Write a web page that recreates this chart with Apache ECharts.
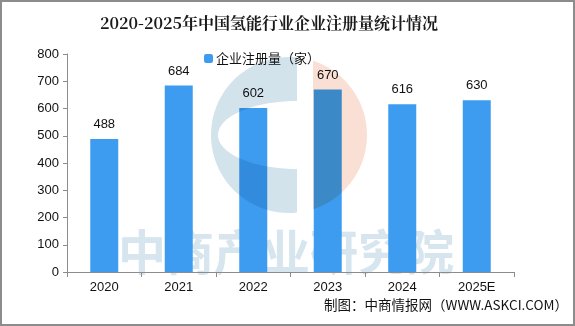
<!DOCTYPE html>
<html>
<head>
<meta charset="utf-8">
<script src="https://cdn.jsdelivr.net/npm/echarts@6/dist/echarts.min.js"></script>
<style>
    html, body {margin: 0; padding: 0; background: #fff;}
    #chart {width: 575px; height: 326px; box-sizing: border-box; border: 2px solid #8c8c8c;}
</style>
</head>
<body>
<div id="chart"></div>
<script>
// 数据
var years = ['2020', '2021', '2022', '2023', '2024', '2025E'];
var counts = [488, 684, 602, 670, 616, 630];
var yTicks = [0, 100, 200, 300, 400, 500, 600, 700, 800];

var myChart = echarts.init(document.getElementById('chart'));

var cnFont = '"Noto Sans CJK SC", sans-serif';
var numFont = '"Liberation Sans", "DejaVu Sans", sans-serif';

// 背景 logo 的轮廓点
function logoBlue() {
    var cx = 287, cy = 133, r = 78, pts = [];
    var a0 = Math.acos((295 - cx) / r);
    for (var i = 0; i <= 60; i++) {
        var a = a0 + (2 * Math.PI - 2 * a0) * i / 60;
        pts.push([cx + r * Math.cos(a), cy - r * Math.sin(a)]);
    }
    for (var j = 0; j <= 40; j++) {
        var b = Math.PI / 2 + Math.PI * j / 40;
        pts.push([295 + 79 * Math.cos(b), 133 + 34 * Math.sin(b)]);
    }
    return pts;
}
function logoOrange() {
    var cx = 287, cy = 133, r = 78, pts = [];
    var a0 = Math.acos((311 - cx) / r);
    for (var i = 0; i <= 50; i++) {
        var a = a0 - 2 * a0 * i / 50;
        pts.push([cx + r * Math.cos(a), cy - r * Math.sin(a)]);
    }
    return pts;
}

myChart.setOption({
    animation: false,
    title: {
        text: '2020-2025年中国氢能行业企业注册量统计情况',
        left: 93,
        top: 8,
        textStyle: {
            fontFamily: '"Noto Serif CJK SC", "Noto Sans CJK SC", serif',
            fontSize: 16,
            fontWeight: 'bold',
            color: '#1a1a1a'
        }
    },
    legend: {
        top: 45,
        left: 197,
        itemWidth: 9,
        itemHeight: 9,
        itemGap: 4,
        data: ['企业注册量（家）'],
        textStyle: {fontFamily: cnFont, fontSize: 13, color: '#111', padding: [0, 0, 0, -2]}
    },
    graphic: [
        // 水印文字（柱子下方）
        {
            type: 'text',
            left: 116,
            top: 226,
            z: 0,
            style: {
                text: '中商产业研究院',
                font: 'bold 48px "Noto Sans CJK SC"',
                fill: '#d6e5ee'
            }
        },
        {
            type: 'polygon',
            z: 10,
            shape: {points: logoBlue()},
            style: {fill: '#d3e3ec', blend: 'multiply'}
        },
        {
            type: 'polygon',
            z: 10,
            shape: {points: logoOrange()},
            style: {fill: '#fae0d4', blend: 'multiply'}
        },
        {
            type: 'text',
            right: 5,
            top: 296,
            style: {
                text: '制图：中商情报网（WWW.ASKCI.COM）',
                font: '13.5px "Noto Sans CJK SC"',
                fill: '#111'
            }
        }
    ],
    grid: {
        left: 65,
        right: 59,
        top: 52,
        bottom: 52
    },
    xAxis: {
        type: 'category',
        data: years,
        axisLine: {lineStyle: {color: '#8c8c8c'}},
        axisTick: {show: true, length: 5, lineStyle: {color: '#8c8c8c'}},
        axisLabel: {color: '#111', fontFamily: numFont, fontSize: 13, margin: 9}
    },
    yAxis: {
        type: 'value',
        min: yTicks[0],
        max: yTicks[yTicks.length - 1],
        interval: 100,
        axisLine: {show: true, lineStyle: {color: '#8c8c8c'}},
        axisTick: {show: true, length: 4, lineStyle: {color: '#8c8c8c'}},
        splitLine: {show: false},
        axisLabel: {color: '#111', fontFamily: numFont, fontSize: 13, margin: 8}
    },
    series: [
        {
            name: '企业注册量（家）',
            type: 'bar',
            data: counts,
            barWidth: 28,
            z: 2,
            itemStyle: {color: '#3d9cf0'},
            label: {
                show: true,
                position: 'top',
                distance: 8,
                color: '#111',
                fontFamily: numFont,
                fontSize: 13
            }
        }
    ]
});
</script>
</body>
</html>
